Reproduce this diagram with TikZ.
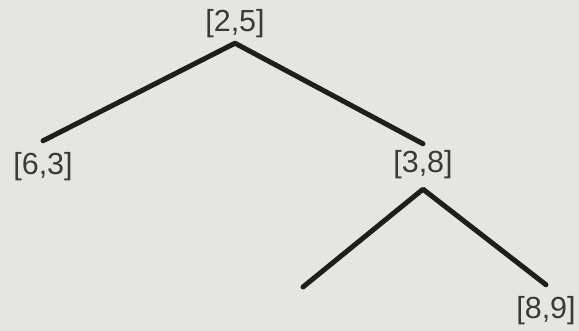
\documentclass[tikz,border=0pt]{standalone}
\usepackage{fontspec}
\setmainfont{Liberation Sans}
\definecolor{TreeBg}{HTML}{E5E5E2}
\definecolor{TreeInk}{HTML}{1E1E1E}
\definecolor{TreeText}{HTML}{3A3A3A}
\tikzset{
  pair/.style={inner sep=0pt,outer sep=7pt,text=TreeText,font=\fontsize{30.5}{36}\selectfont},
  leafpair/.style={pair,outer sep=12pt},
  branch/.style={draw=TreeInk,line width=5pt,line cap=round,line join=round}
}
\begin{document}
\begin{tikzpicture}[x=1pt,y=-1pt]
  \fill[TreeBg] (0,0) rectangle (579,331);
  \useasboundingbox (0,0) rectangle (579,331);
  \node[pair,outer sep=5pt] (root) at (235,24) {[2,5]};
  \node[leafpair] (left) at (43,167) {[6,3]};
  \node[pair] (mid) at (423,165) {[3,8]};
  \node[leafpair] (right) at (546,311) {[8,9]};
  \coordinate (empty) at (303,287);
  \draw[branch] (left.north) -- (root.south) -- (mid.north);
  \draw[branch] (empty) -- ([yshift=-3pt]mid.south) -- (right.north);
\end{tikzpicture}
\end{document}
